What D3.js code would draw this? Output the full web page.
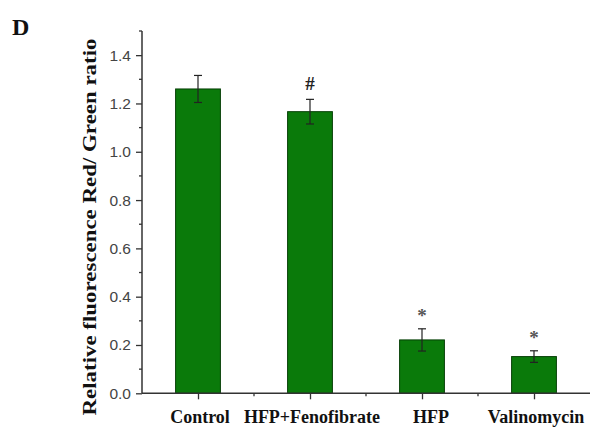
<!DOCTYPE html>
<html>
<head>
<meta charset="utf-8">
<script src="https://cdn.jsdelivr.net/npm/d3@7"></script>
<style>
  html, body { margin: 0; padding: 0; background: #fff; }
  svg { display: block; }
</style>
</head>
<body>
<svg id="chart" width="591" height="430"></svg>
<script>
// Mitochondrial membrane potential (JC-1 red/green ratio) per treatment group
const categories = ["Control", "HFP+Fenofibrate", "HFP", "Valinomycin"];
const means = [1.26, 1.166, 0.221, 0.152];
const errors = [0.056, 0.051, 0.046, 0.024];
const marks = ["", "#", "*", "*"];
const yTicks = [0.0, 0.2, 0.4, 0.6, 0.8, 1.0, 1.2, 1.4];
const yMinorTicks = [0.1, 0.3, 0.5, 0.7, 0.9, 1.1, 1.3, 1.5];

const svg = d3.select("#chart");
const plotLeft = 142, plotRight = 590, plotTop = 31, plotBottom = 393.3;

const y = d3.scaleLinear().domain([0, 1.5]).range([plotBottom, plotTop]);
const x = d3.scaleLinear().domain([0.5, categories.length + 0.5]).range([plotLeft, plotRight]);
const barW = 0.4 * (x(2) - x(1));
const axisColor = "#333";

// Bars
svg.append("g").selectAll("rect")
  .data(means)
  .join("rect")
  .attr("x", (d, i) => x(i + 1) - barW / 2)
  .attr("y", d => y(d))
  .attr("width", barW)
  .attr("height", d => y(0) - y(d))
  .attr("fill", "#0a7a0a")
  .attr("stroke", "#063f06")
  .attr("stroke-width", 1);

// Error bars
const eb = svg.append("g").attr("stroke", "#222").attr("stroke-width", 1.2);
means.forEach((m, i) => {
  const cx = x(i + 1);
  eb.append("line").attr("x1", cx).attr("x2", cx).attr("y1", y(m + errors[i])).attr("y2", y(m - errors[i]));
  eb.append("line").attr("x1", cx - 4).attr("x2", cx + 4).attr("y1", y(m + errors[i])).attr("y2", y(m + errors[i]));
  eb.append("line").attr("x1", cx - 4).attr("x2", cx + 4).attr("y1", y(m - errors[i])).attr("y2", y(m - errors[i]));
});

// Significance marks
svg.append("g").selectAll("text")
  .data(marks)
  .join("text")
  .attr("x", (d, i) => x(i + 1))
  .attr("y", (d, i) => y(means[i] + errors[i]) - (d === "#" ? 9 : 7))
  .attr("text-anchor", "middle")
  .attr("font-family", "Liberation Serif, Times New Roman, serif")
  .attr("font-weight", "bold")
  .attr("font-size", d => d === "#" ? 19 : 19)
  .attr("fill", d => d === "#" ? "#222" : "#555")
  .text(d => d);

// Y axis
const yAxis = svg.append("g")
  .attr("transform", `translate(${plotLeft},0)`)
  .call(d3.axisLeft(y).tickValues(yTicks).tickFormat(d3.format(".1f")).tickSize(6).tickPadding(5));
yAxis.append("g").selectAll("line")
  .data(yMinorTicks)
  .join("line")
  .attr("x1", -3).attr("x2", 0)
  .attr("y1", d => y(d)).attr("y2", d => y(d))
  .attr("stroke", axisColor).attr("stroke-width", 1.3);
yAxis.select(".domain").attr("d", `M0,${y(0)}V${plotTop}`);

// X axis
const xAxis = svg.append("g")
  .attr("transform", `translate(0,${plotBottom})`)
  .call(d3.axisBottom(x).tickValues(d3.range(1, categories.length + 1)).tickFormat(() => "").tickSize(6));
xAxis.append("g").selectAll("line")
  .data(d3.range(1.5, categories.length, 1))
  .join("line")
  .attr("x1", d => x(d)).attr("x2", d => x(d))
  .attr("y1", 0).attr("y2", 3)
  .attr("stroke", axisColor).attr("stroke-width", 1.3);
xAxis.select(".domain").attr("d", `M${plotLeft},0H${plotRight}`);

[yAxis, xAxis].forEach(a => {
  a.selectAll(".domain").attr("stroke", axisColor).attr("stroke-width", 1.5);
  a.selectAll(".tick line").attr("stroke", axisColor).attr("stroke-width", 1.3);
});
yAxis.selectAll(".tick text")
  .attr("font-family", "Liberation Sans, Arial, sans-serif")
  .attr("font-size", 15.5)
  .attr("fill", "#444");

// Category labels
svg.append("g").selectAll("text")
  .data(categories)
  .join("text")
  .attr("x", (d, i) => x(i + 1) + (d === "HFP" ? 9 : 2))
  .attr("y", 423)
  .attr("text-anchor", "middle")
  .attr("font-family", "Liberation Serif, Times New Roman, serif")
  .attr("font-weight", "bold")
  .attr("font-size", 18)
  .attr("fill", "#111")
  .text(d => d);

// Y axis title
svg.append("text")
  .attr("transform", "translate(96,227) rotate(-90)")
  .attr("text-anchor", "middle")
  .attr("font-family", "Liberation Serif, Times New Roman, serif")
  .attr("font-weight", "bold")
  .attr("font-size", 18)
  .attr("textLength", 377)
  .attr("lengthAdjust", "spacingAndGlyphs")
  .attr("fill", "#111")
  .text("Relative fluorescence Red/ Green ratio");

// Panel letter
svg.append("text")
  .attr("x", 12).attr("y", 35)
  .attr("font-family", "Liberation Serif, Times New Roman, serif")
  .attr("font-weight", "bold")
  .attr("font-size", 24)
  .attr("fill", "#111")
  .text("D");
</script>
</body>
</html>
